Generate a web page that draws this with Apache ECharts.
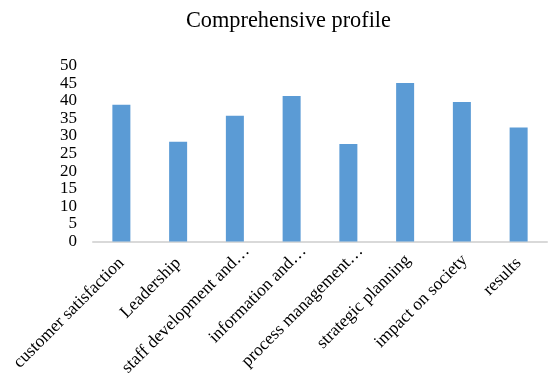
<!DOCTYPE html>
<html><head><meta charset="utf-8">
<script src="https://cdn.jsdelivr.net/npm/echarts@6/dist/echarts.min.js"></script>
<style>html,body{margin:0;padding:0;background:#fff}#c{width:548px;height:381px}</style>
</head><body><div id="c"></div>
<script>
var categories = ["customer satisfaction","Leadership","staff development and\u2026","information and\u2026","process management\u2026","strategic planning","impact on society","results"];
var values = [38.9, 28.4, 35.8, 41.4, 27.7, 45.1, 39.7, 32.4];
var yTicks = {min: 0, max: 50, interval: 5};
var chart = echarts.init(document.getElementById('c'), null, {renderer: 'canvas'});
var serif = '"Liberation Serif","Times New Roman",serif';
var catData = categories.map(function (c) {
  if (c.indexOf('\u2026') >= 0) return {value: c, textStyle: {padding: [0, -17, 10, 0]}};
  if (c === 'strategic planning' || c === 'impact on society') return {value: c, textStyle: {padding: [0, -4, 0, 0]}};
  return c;
});
chart.setOption({
  animation: false,
  title: {text: 'Comprehensive profile', left: 181, top: 5,
    textStyle: {fontFamily: serif, fontSize: 22.3, fontWeight: 'normal', color: '#000'}},
  grid: {left: 93, right: 1, top: 65.7, bottom: 139.5, containLabel: false, outerBoundsMode: 'none'},
  xAxis: {type: 'category', data: catData,
    axisLine: {lineStyle: {color: '#d9d9d9', width: 2}},
    axisTick: {show: false},
    axisLabel: {rotate: 45, interval: 0, margin: 19, hideOverlap: false, fontFamily: serif, fontSize: 17.5, color: '#000'}},
  yAxis: {type: 'value', min: yTicks.min, max: yTicks.max, interval: yTicks.interval,
    axisLine: {show: false}, axisTick: {show: false}, splitLine: {show: false},
    axisLabel: {margin: 16, showMinLabel: true, showMaxLabel: true, hideOverlap: false, fontFamily: serif, fontSize: 17, color: '#000'}},
  series: [{type: 'bar', data: values, barWidth: 18, itemStyle: {color: '#5b9bd5'}}]
});
</script></body></html>
